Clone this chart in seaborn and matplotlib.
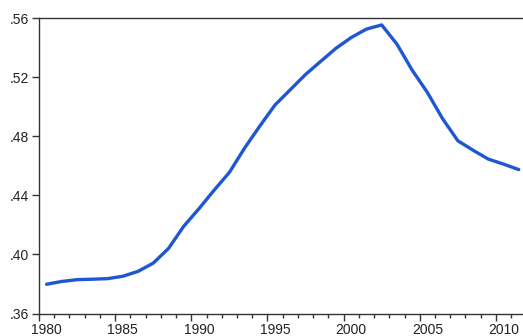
import numpy as np
import pandas as pd
import seaborn as sns
import matplotlib.pyplot as plt
from matplotlib.transforms import ScaledTranslation

# annual series
years = list(range(1980, 2012))
values = [0.3798, 0.3817, 0.3829, 0.3832, 0.3836, 0.3852, 0.3885, 0.3941,
          0.4040, 0.4190, 0.4309, 0.4435, 0.4555, 0.4720, 0.4869, 0.5012,
          0.5115, 0.5218, 0.5307, 0.5395, 0.5468, 0.5525, 0.5553, 0.5423,
          0.5247, 0.5096, 0.4918, 0.4769, 0.4705, 0.4645, 0.4611, 0.4574]
y_ticks = [0.36, 0.40, 0.44, 0.48, 0.52, 0.56]
x_labels = [1980, 1985, 1990, 1995, 2000, 2005, 2010]

df = pd.DataFrame({'year': years, 'value': values})
df['pos'] = df['year'] + 0.5  # annual obs drawn at mid-year

sns.set_style('white')
plt.rcParams['font.family'] = ['Liberation Sans', 'DejaVu Sans']

fig = plt.figure(figsize=(5.23, 3.36), dpi=100)
ax = fig.add_axes([39 / 523, 22.5 / 336, 487.4 / 523, 295.5 / 336])

sns.lineplot(data=df, x='pos', y='value', ax=ax, color='#1f56d2', linewidth=2.4)

ax.set_xlim(1980, 2012)
ax.set_ylim(0.36, 0.56)
ax.set_xlabel('')
ax.set_ylabel('')

ax.set_xticks(x_labels)
ax.set_xticklabels([str(v) for v in x_labels], fontsize=10, color='#222222')
ax.set_xticks(years, minor=True)
ax.set_yticks(y_ticks)
ax.set_yticklabels([('%.2f' % v)[1:] for v in y_ticks], fontsize=10, color='#222222')

ax.tick_params(axis='y', which='major', direction='out', length=5, width=1,
               color='#333333', pad=2, left=True)
ax.tick_params(axis='x', which='major', direction='out', length=5, width=1,
               color='#333333', pad=2, bottom=True)
ax.tick_params(axis='x', which='minor', direction='out', length=3, width=1,
               color='#333333', bottom=True)

# labels centred on the year, not on its start
for lab in ax.get_xticklabels():
    lab.set_transform(lab.get_transform() + ScaledTranslation(0.076, 0, fig.dpi_scale_trans))

for s in ['left', 'top', 'bottom', 'right']:
    ax.spines[s].set_color('#333333')
    ax.spines[s].set_linewidth(1)

fig.savefig('out.png', dpi=100)
